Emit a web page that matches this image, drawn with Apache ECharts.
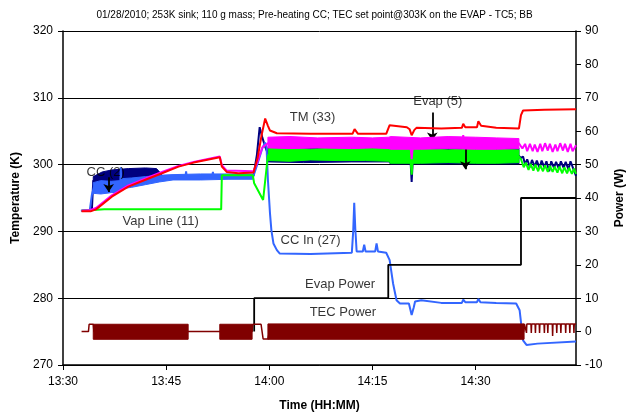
<!DOCTYPE html>
<html><head><meta charset="utf-8">
<script src="https://cdn.jsdelivr.net/npm/echarts@6/dist/echarts.min.js"></script>
<style>html,body{margin:0;padding:0;background:#fff;overflow:hidden}#c{width:629px;height:415px}</style>
</head><body><div id="c"></div>
<script>
// ---- data (time in minutes after 13:30; temperatures K; power W) ----
const titleText = '01/28/2010; 253K sink; 110 g mass; Pre-heating CC; TEC set point@303K on the EVAP - TC5; BB';
const tempTicks = [270, 280, 290, 300, 310, 320];
const powerTicks = [-10, 90];
const timeRange = [0, 74.6];
const timeStart = [13, 30];

const redTM = [[2.7,293.0],[4.0,293.0],[4.8,293.3],[7.1,295.2],[9.5,296.7],[11.9,297.7],[14.4,298.7],[16.8,299.7],[19.0,300.3],[22.8,301.1],[23.1,299.7],[23.8,298.9],[25.5,298.7],[27.7,298.8],[28.3,301.0],[28.9,304.5],[29.4,306.9],[29.8,305.8],[30.1,305.1],[31.1,304.7],[36,304.6],[42.1,304.6],[42.4,305.3],[42.9,304.6],[47.0,304.6],[47.5,305.9],[50.0,305.6],[50.4,305.3],[50.7,304.4],[51.1,305.2],[51.4,305.5],[55,305.4],[58.0,305.5],[58.2,306.1],[58.5,305.6],[60.2,305.6],[60.4,306.5],[60.8,305.8],[63,305.5],[66.3,305.4],[66.6,307.4],[66.9,308.1],[70,308.2],[74.6,308.3]];

const magentaLine = [[2.7,293.1],[4.0,293.2],[4.8,293.5],[7.1,295.4],[9.5,296.9],[11.9,297.9],[14.4,298.9],[16.8,299.8],[19.0,300.4],[22.8,301.2],[23.1,299.9],[23.8,299.1],[27.7,299.0],[28.3,300.5],[29.0,302.6],[29.8,303.2],[50.5,303.2],[50.7,300.8],[50.9,303.2],[58.1,303.2],[58.2,304.4],[58.3,303.2],[66.3,303.2],[66.8,302.4],[67.2,303.1],[67.5,302.0],[67.9,303.1],[68.3,302.0],[68.6,303.0],[69.0,301.9],[69.4,303.1],[69.7,302.0],[70.1,303.2],[70.5,302.1],[70.8,303.1],[71.2,301.9],[71.6,303.0],[71.9,302.0],[72.3,303.2],[72.7,302.1],[73.0,303.1],[73.4,301.9],[73.8,303.1],[74.1,302.0],[74.6,302.9]];
const magentaBands = [[[29.8,302.5,304.1],[33,302.4,304.2],[37,302.5,304.0],[42,302.4,304.1],[45,302.5,304.0],[47.4,302.4,304.1],[47.6,302.3,304.2],[52,302.3,304.0],[56,302.4,304.2],[60,302.3,304.1],[63,302.3,304.0],[66.3,302.4,303.9]]];

const navyLine = [[2.7,293.1],[4.2,293.2],[4.4,297.6],[7,298.2],[10,298.5],[13.6,298.6],[14.3,298.3],[27.7,298.3],[28.2,301.5],[28.6,305.6],[29.0,304.0],[29.4,302.7],[29.8,301.6],[42.3,301.5],[42.4,300.4],[42.5,301.5],[50.5,301.3],[50.7,297.4],[50.9,301.3],[66.3,301.3],[66.6,301.0],[66.9,301.2],[67.2,300.0],[67.5,300.8],[67.9,299.6],[68.2,300.7],[68.6,299.7],[68.9,300.6],[69.3,299.5],[69.6,300.6],[70.0,299.6],[70.3,300.5],[70.7,299.0],[71.0,300.5],[71.4,299.5],[71.7,300.4],[72.1,299.4],[72.4,300.5],[72.8,299.5],[73.1,300.4],[73.5,299.3],[73.8,300.5],[74.2,299.4],[74.6,298.3]];
const navyBands = [[[4.4,297.0,298.2],[5.7,297.0,298.9],[7.1,297.1,299.2],[9.5,297.6,299.4],[12.0,298.0,299.5],[13.6,298.2,299.4],[14.3,298.2,298.6]],
                   [[29.8,300.4,302.6],[35,300.3,302.7],[42,300.4,302.6],[47.4,300.4,302.7],[47.6,300.1,302.6],[55,300.1,302.5],[66.3,300.1,302.5]]];

const blueLine = [[2.6,293.1],[3.9,293.2],[4.2,295.5],[4.5,296.6],[6,296.5],[8.2,296.6],[8.3,296.2],[8.4,299.6],[8.5,296.8],[10,297.2],[12,297.5],[14,297.9],[16,298.1],[17.8,298.1],[17.9,299.0],[18.0,298.1],[20,298.1],[21.7,298.2],[21.8,298.9],[21.9,298.2],[24,298.2],[27.7,298.3],[28.4,300.5],[29.0,302.5],[29.4,303.3],[29.6,302.6],[29.8,297.7],[30.1,292.7],[30.3,290.2],[30.6,288.2],[31.1,287.2],[31.5,286.7],[36,286.6],[42.0,286.8],[42.2,290.0],[42.35,294.3],[42.5,290.5],[42.7,287.0],[43.6,287.0],[43.8,288.0],[44.0,287.0],[45.4,287.0],[45.6,288.2],[45.8,287.0],[47.0,286.8],[47.5,285.7],[48.0,282.2],[48.5,279.7],[49.0,279.2],[50.3,279.2],[50.7,277.5],[51.0,278.6],[51.2,279.5],[52.1,279.7],[55,279.3],[58.0,279.3],[58.2,279.8],[58.5,279.4],[60.2,279.4],[60.4,279.9],[60.7,279.4],[63,279.3],[65.9,279.2],[66.4,278.2],[66.9,273.7],[67.4,273.0],[69,273.2],[74.6,273.5]];
const blueBands = [[[4.4,295.7,297.3],[5.5,295.6,297.6],[7,295.8,297.5],[8.2,295.9,297.6],[8.6,296.4,297.9],[10,296.6,298.0],[12,297.0,298.2],[14,297.4,298.4],[16,297.7,298.5],[20,297.7,298.6],[24,297.8,298.6],[27.6,297.8,298.6]]];

const greenLine = [[2.7,293.1],[4.4,293.2],[6,293.3],[23.0,293.3],[23.1,298.4],[27.6,298.4],[27.8,297.2],[29.1,294.7],[29.8,301.4],[42.3,301.5],[42.4,304.1],[42.5,301.5],[50.5,301.2],[50.7,298.5],[50.9,301.2],[58.1,301.2],[58.2,303.7],[58.3,301.2],[60.2,301.2],[60.3,303.5],[60.4,301.2],[66.3,301.2],[66.6,300.8],[67.0,299.6],[67.3,300.3],[67.7,299.2],[68.0,300.1],[68.4,299.1],[68.7,300.0],[69.1,299.0],[69.4,299.9],[69.8,299.0],[70.1,299.9],[70.5,298.9],[70.8,299.8],[71.2,298.9],[71.5,299.7],[71.9,298.8],[72.2,299.7],[72.6,298.7],[72.9,299.6],[73.3,298.7],[73.6,299.5],[74.0,298.6],[74.3,299.4],[74.6,298.6]];
const greenBands = [[[29.9,300.6,302.4],[33,300.5,302.5],[36,300.7,302.3],[40,300.6,302.5],[44,300.6,302.4],[47.4,300.5,302.4],[47.6,300.2,302.3],[52,300.2,302.4],[56,300.3,302.2],[60,300.2,302.4],[63,300.2,302.3],[66.3,300.3,302.2]]];

const evapPower = [[27.8,0],[27.8,10],[47.3,10],[47.3,20],[66.6,20],[66.6,40],[74.6,40]];

const tecLine = [[2.7,0],[3.7,0],[3.8,2.2],[4.4,2.2],[4.5,0],[18.2,0],[22.8,0],[27.5,0],[27.6,2.2],[28.8,2.2],[29.1,-2.2],[29.8,-2.2],[30,0],[67.0,0],[67.1,2.3],[67.35,2.3],[67.4,-0.4],[67.45,2.3],[68.05,2.3],[68.1,-0.4],[68.15,2.3],[68.65,2.3],[68.7,-0.4],[68.75,2.3],[69.25,2.3],[69.3,-0.4],[69.35,2.3],[69.95,2.3],[70.0,-0.4],[70.05,2.3],[70.45,2.3],[70.5,-0.4],[70.55,2.3],[71.15,2.3],[71.2,-1.3],[71.25,2.3],[71.75,2.3],[71.8,-0.4],[71.85,2.3],[72.35,2.3],[72.4,-0.4],[72.45,2.3],[73.05,2.3],[73.1,-0.4],[73.15,2.3],[73.65,2.3],[73.7,-0.4],[73.75,2.3],[74.25,2.3],[74.3,-0.4],[74.35,2.3],[74.6,2.3]];
const tecBands = [[[4.4,-2.3,2.2],[18.2,-2.3,2.2]],[[22.8,-2.3,2.2],[27.5,-2.3,2.2]],[[29.8,-2.3,2.3],[67.05,-2.3,2.3]]];

const annotTexts = ['TM (33)', 'Evap (5)', 'CC (2)', 'Vap Line (11)', 'CC In (27)', 'Evap Power', 'TEC Power'];
const annotPos = [[36.3,307.1],[54.5,309.5],[6.2,298.9],[14.2,291.5],[36.0,288.6],[40.3,282.1],[40.7,277.9]];
const arrows = [[[6.64,298.1],[6.64,295.9]],[[53.7,307.8],[53.7,303.6]],[[58.5,303.6],[58.5,299.3]]];

// ---- chart ----
const FONT = 'Liberation Sans, Arial, sans-serif';
function fmtTime(v){ const m = timeStart[0]*60 + timeStart[1] + v; const h = Math.floor(m/60); const mm = Math.round(m%60); return h + ':' + (mm<10?'0':'') + mm; }

function bandSeries(segs, color, yIdx, z){
  return {
    type: 'custom', yAxisIndex: yIdx, z: z, silent: true, clip: true,
    data: segs.map(s => [s[0][0], s[0][2]]),
    renderItem: function(params, api){
      const s = segs[params.dataIndex];
      const pts = s.map(p => api.coord([p[0], p[2]])).concat(s.slice().reverse().map(p => api.coord([p[0], p[1]])));
      return { type: 'polygon', shape: { points: pts }, style: { fill: color, stroke: color, lineWidth: 1 } };
    }
  };
}
function lineSeries(data, color, width, yIdx, z){
  return { type: 'line', data: data, yAxisIndex: yIdx, z: z, showSymbol: false, symbol: 'none', silent: true,
    lineStyle: { color: color, width: width }, itemStyle: { color: color }, animation: false };
}

const chart = echarts.init(document.getElementById('c'), null, { renderer: 'canvas', width: 629, height: 415 });
const series = [
  bandSeries(navyBands, '#000080', 0, 2), lineSeries(navyLine, '#000080', 2, 0, 2),
  bandSeries(blueBands, '#3366FF', 0, 3), lineSeries(blueLine, '#3366FF', 2, 0, 3),
  bandSeries(greenBands, '#00FF00', 0, 4), lineSeries(greenLine, '#00FF00', 2, 0, 4),
  bandSeries(magentaBands, '#FF00FF', 0, 5), lineSeries(magentaLine, '#FF00FF', 2, 0, 5),
  lineSeries(redTM, '#FF0000', 2, 0, 6),
  lineSeries(evapPower, '#000000', 1.8, 1, 7),
  bandSeries(tecBands, '#800000', 1, 8), lineSeries(tecLine, '#800000', 1.5, 1, 8),
  {
    type: 'scatter', yAxisIndex: 0, z: 10, silent: true, symbolSize: 0,
    data: annotPos.map((p, i) => ({ value: p, name: annotTexts[i] })),
    label: { show: true, position: 'inside', formatter: p => p.name, color: '#000', fontFamily: FONT, fontSize: 13 },
    markLine: { silent: true, symbol: ['none', 'arrow'], symbolSize: 8, animation: false, label: { show: false },
      lineStyle: { color: '#000', width: 1.8, type: 'solid' },
      data: arrows.map(a => [{ coord: a[0] }, { coord: a[1] }]) }
  }
];

chart.setOption({
  animation: false,
  backgroundColor: '#fff',
  title: { text: titleText, left: 'center', top: 5, textStyle: { fontFamily: FONT, fontSize: 10, fontWeight: 'normal', color: '#000' } },
  grid: { left: 63, right: 53, top: 31, bottom: 50, containLabel: false, outerBoundsMode: 'none' },
  xAxis: {
    type: 'value', min: timeRange[0], max: timeRange[1], interval: 15,
    name: 'Time (HH:MM)', nameLocation: 'middle', nameGap: 35,
    nameTextStyle: { fontFamily: FONT, fontSize: 12, fontWeight: 'bold', color: '#000' },
    axisLine: { onZero: false, lineStyle: { color: '#000', width: 1.5 } },
    axisTick: { show: true, length: 5, lineStyle: { color: '#000' } },
    axisLabel: { formatter: fmtTime, showMaxLabel: false, margin: 11, fontFamily: FONT, fontSize: 12, color: '#000' },
    splitLine: { show: false }
  },
  yAxis: [{
    type: 'value', min: tempTicks[0], max: tempTicks[tempTicks.length-1], interval: 10, position: 'left',
    name: 'Temperature (K)', nameLocation: 'middle', nameGap: 38, nameRotate: 90,
    nameTextStyle: { fontFamily: FONT, fontSize: 12, fontWeight: 'bold', color: '#000' },
    axisLine: { show: true, onZero: false, lineStyle: { color: '#000', width: 1.5 } },
    axisTick: { show: true, length: 5, lineStyle: { color: '#000' } },
    axisLabel: { margin: 10, fontFamily: FONT, fontSize: 12, color: '#000' },
    splitLine: { show: true, lineStyle: { color: '#000', width: 1 } }
  }, {
    type: 'value', min: powerTicks[0], max: powerTicks[1], interval: 10, position: 'right',
    name: 'Power (W)', nameLocation: 'middle', nameGap: 37, nameRotate: 90,
    nameTextStyle: { fontFamily: FONT, fontSize: 12, fontWeight: 'bold', color: '#000' },
    axisLine: { show: true, onZero: false, lineStyle: { color: '#000', width: 1.5 } },
    axisTick: { show: true, length: 5, lineStyle: { color: '#000' } },
    axisLabel: { margin: 9, fontFamily: FONT, fontSize: 12, color: '#000' },
    splitLine: { show: false }
  }],
  series: series
});
</script></body></html>
